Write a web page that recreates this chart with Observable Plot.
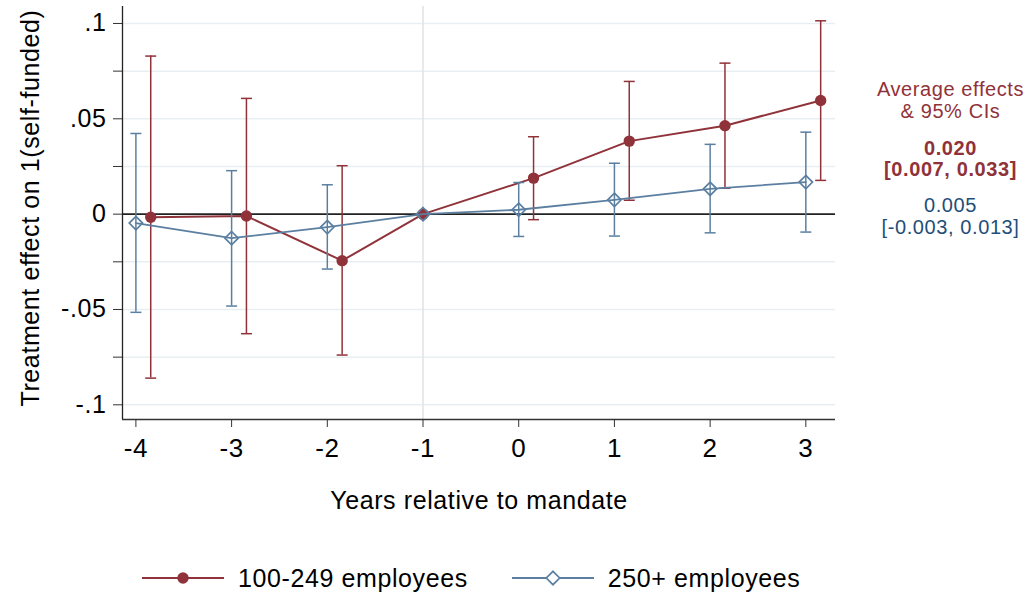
<!DOCTYPE html>
<html>
<head>
<meta charset="utf-8">
<script src="https://cdn.jsdelivr.net/npm/d3@7"></script>
<script src="https://cdn.jsdelivr.net/npm/@observablehq/plot@0.6"></script>
<style>
  body { margin: 0; background: #fff; font-family: "Liberation Sans", Arial, sans-serif; }
  #chart { position: relative; width: 1034px; height: 596px; }
  #chart svg text { letter-spacing: 0.6px; }
  #legend { position: absolute; left: 0; top: 562px; height: 32px; display: flex; align-items: center; padding-left: 142px; font-size: 25px; letter-spacing: 0.6px; color: #000; }
  .item { display: flex; align-items: center; }
  .item svg { margin-right: 14px; }
</style>
</head>
<body>
<div id="chart"></div>
<script>
// ---- data ----
const years = [-4, -3, -2, -1, 0, 1, 2, 3];
const redName = "100-249 employees";
const blueName = "250+ employees";
const redEst = [-0.0016, -0.0010, -0.0244, 0, 0.0189, 0.0383, 0.0464, 0.0596];
const redLo  = [-0.0860, -0.0627, -0.0739, 0, -0.0029, 0.0073, 0.0136, 0.0177];
const redHi  = [ 0.0829,  0.0607,  0.0254, 0, 0.0406, 0.0696, 0.0792, 0.1014];
const blueEst = [-0.0047, -0.0126, -0.0068, 0, 0.0023, 0.0075, 0.0133, 0.0168];
const blueLo  = [-0.0515, -0.0482, -0.0288, 0, -0.0117, -0.0115, -0.0098, -0.0094];
const blueHi  = [ 0.0423,  0.0228,  0.0154, 0, 0.0166, 0.0267, 0.0366, 0.0430];
const refYear = -1;
const redShift = 0.155;   // small horizontal dodge of the red series
const yTicks = [-0.1, -0.075, -0.05, -0.025, 0, 0.025, 0.05, 0.075, 0.1];
const yTickLabels = {"-0.1": "-.1", "-0.05": "-.05", "0": "0", "0.05": ".05", "0.1": ".1"};
const xDomain = [-4.14, 3.31];
const yDomain = [-0.1077, 0.1089];
const xLabel = "Years relative to mandate";
const yLabel = "Treatment effect on 1(self-funded)";
const annoTitle = "Average effects\n& 95% CIs";
const annoRed = "0.020\n[0.007, 0.033]";
const annoBlue = "0.005\n[-0.003, 0.013]";

const red = "#90323A", blue = "#5B7FA0", blueText = "#1F4E79";

const redRows = years.map((y, i) => ({x: y === refYear ? y : y + redShift, est: redEst[i], lo: redLo[i], hi: redHi[i], ref: y === refYear}));
const blueRows = years.map((y, i) => ({x: y, est: blueEst[i], lo: blueLo[i], hi: blueHi[i], ref: y === refYear}));
const redCI = redRows.filter(d => !d.ref);
const blueCI = blueRows.filter(d => !d.ref);

const cap = {draw(ctx, size) { const w = Math.sqrt(size / Math.PI); ctx.moveTo(-w, 0); ctx.lineTo(w, 0); }};

const font = "'Liberation Sans', Arial, sans-serif";

const chart = Plot.plot({
  width: 1034,
  height: 525,
  marginLeft: 122,
  marginRight: 199,
  marginTop: 6,
  marginBottom: 106,
  style: {fontFamily: font, fontSize: "25px", background: "#fff", color: "#000", overflow: "visible"},
  x: {domain: xDomain},
  y: {domain: yDomain},
  marks: [
    Plot.ruleY(yTicks.filter(t => t !== 0), {y: d => d, stroke: "#E8EFF2", strokeWidth: 1.5}),
    Plot.ruleX([refYear], {x: d => d, stroke: "#E2E2E2", strokeWidth: 1.5}),
    Plot.ruleY([0], {y: d => d, stroke: "#222", strokeWidth: 1.6}),
    Plot.ruleX([xDomain[0]], {x: d => d, stroke: "#222", strokeWidth: 1.3}),
    Plot.ruleY([yDomain[0]], {y: d => d, stroke: "#333", strokeWidth: 1.6}),
    Plot.axisY({ticks: yTicks, tickFormat: t => yTickLabels[String(t)] ?? "", tickSize: 9, tickPadding: 7, label: null, fontSize: 25, stroke: "#333"}),
    Plot.axisX({ticks: years, tickFormat: d => String(d), tickSize: 8, tickPadding: 11, label: null, fontSize: 26, stroke: "#333"}),
    // red series
    Plot.line(redRows, {x: "x", y: "est", stroke: red, strokeWidth: 2}),
    Plot.ruleX(redCI, {x: "x", y1: "lo", y2: "hi", stroke: red, strokeWidth: 1.5}),
    Plot.dot(redCI, {x: "x", y: "lo", symbol: cap, r: 5.5, stroke: red, fill: "none", strokeWidth: 1.5}),
    Plot.dot(redCI, {x: "x", y: "hi", symbol: cap, r: 5.5, stroke: red, fill: "none", strokeWidth: 1.5}),
    Plot.dot(redRows, {x: "x", y: "est", r: 5.7, fill: red, stroke: "none"}),
    // blue series
    Plot.line(blueRows, {x: "x", y: "est", stroke: blue, strokeWidth: 1.8}),
    Plot.ruleX(blueCI, {x: "x", y1: "lo", y2: "hi", stroke: blue, strokeWidth: 1.5}),
    Plot.dot(blueCI, {x: "x", y: "lo", symbol: cap, r: 5.5, stroke: blue, fill: "none", strokeWidth: 1.5}),
    Plot.dot(blueCI, {x: "x", y: "hi", symbol: cap, r: 5.5, stroke: blue, fill: "none", strokeWidth: 1.5}),
    Plot.dot(blueRows, {x: "x", y: "est", symbol: "diamond2", r: 6, stroke: blue, fill: "none", strokeWidth: 1.7}),
    // titles
    Plot.text([xLabel], {frameAnchor: "bottom", dy: 81, text: d => d, fontSize: 25, lineAnchor: "middle", textAnchor: "middle", fill: "#000"}),
    Plot.text([yLabel], {frameAnchor: "left", dx: -92, dy: -5, text: d => d, fontSize: 25, rotate: -90, lineAnchor: "middle", textAnchor: "middle", fill: "#000"}),
    // annotations
    Plot.text([annoTitle], {frameAnchor: "top-right", dx: 115, dy: 93.5, text: d => d, fontSize: 20, lineHeight: 1.07, lineAnchor: "middle", textAnchor: "middle", fill: red}),
    Plot.text([annoRed], {frameAnchor: "top-right", dx: 115, dy: 152, text: d => d, fontSize: 20, lineHeight: 1.07, lineAnchor: "middle", textAnchor: "middle", fill: red, fontWeight: "bold"}),
    Plot.text([annoBlue], {frameAnchor: "top-right", dx: 115, dy: 209.5, text: d => d, fontSize: 20, lineHeight: 1.07, lineAnchor: "middle", textAnchor: "middle", fill: blueText})
  ]
});

const root = document.getElementById("chart");
root.appendChild(chart);

// legend below the SVG
const legend = document.createElement("div");
legend.id = "legend";
legend.innerHTML = `
  <div class="item">
    <svg width="82" height="20"><line x1="0" y1="10" x2="82" y2="10" stroke="${red}" stroke-width="2"/><circle cx="41" cy="10" r="5.7" fill="${red}"/></svg>
    <span>${redName}</span>
  </div>
  <div class="item" style="margin-left:44px">
    <svg width="82" height="20"><line x1="0" y1="10" x2="82" y2="10" stroke="${blue}" stroke-width="1.8"/><path d="M41,3.3L47.7,10L41,16.7L34.3,10Z" fill="#fff" stroke="${blue}" stroke-width="1.7"/></svg>
    <span>${blueName}</span>
  </div>`;
root.appendChild(legend);
</script>
</body>
</html>
